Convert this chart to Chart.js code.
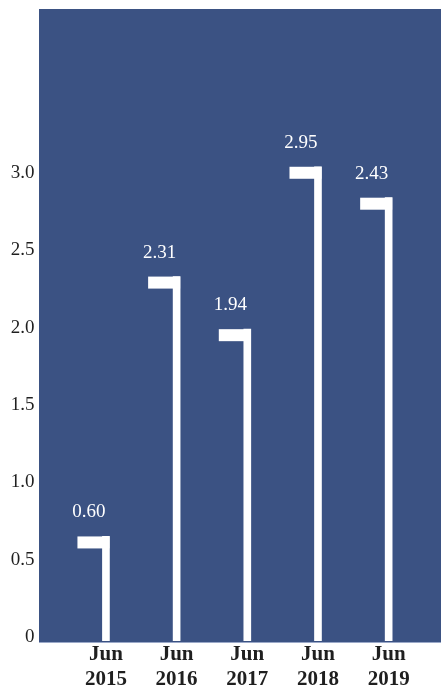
<!DOCTYPE html>
<html>
<head>
<meta charset="utf-8">
<style>
  html, body { margin: 0; padding: 0; background: #ffffff; }
  canvas { display: block; }
</style>
<script src="https://cdn.jsdelivr.net/npm/chart.js@4/dist/chart.umd.min.js"></script>
</head>
<body>
<canvas id="c" width="441" height="687"></canvas>
<script>
// Data
const categories = [['Jun', '2015'], ['Jun', '2016'], ['Jun', '2017'], ['Jun', '2018'], ['Jun', '2019']];
const barHeights = [0.65, 2.33, 1.99, 3.04, 2.84];          // drawn flag tops
const valueLabels = ['0.60', '2.31', '1.94', '2.95', '2.43']; // printed labels
const yTickMax = 3.0;

const SERIF = "'Liberation Serif', 'DejaVu Serif', serif";
const BG_BLUE = '#3b5283';

const backgroundPlugin = {
  id: 'panelBg',
  beforeDraw(chart) {
    const { ctx, chartArea } = chart;
    ctx.save();
    ctx.fillStyle = BG_BLUE;
    ctx.fillRect(39, chartArea.top, 441 - 39, chartArea.bottom - chartArea.top + 1);
    ctx.strokeStyle = '#9aa8c8';
    ctx.lineWidth = 1;
    ctx.beginPath();
    ctx.moveTo(39, chartArea.bottom + 1.5);
    ctx.lineTo(441, chartArea.bottom + 1.5);
    ctx.stroke();
    ctx.restore();
  }
};

const flagPlugin = {
  id: 'flags',
  afterDatasetsDraw(chart) {
    const { ctx } = chart;
    const meta = chart.getDatasetMeta(0);
    ctx.save();
    meta.data.forEach((bar, i) => {
      const half = bar.width / 2;
      const tabW = 32, tabH = 12;
      ctx.fillStyle = '#ffffff';
      ctx.fillRect(bar.x + half - tabW, bar.y, tabW, tabH);
      ctx.font = '19px ' + SERIF;
      ctx.textAlign = 'center';
      ctx.textBaseline = 'middle';
      ctx.fillText(valueLabels[i], bar.x - 17, bar.y - 24);
    });
    ctx.restore();
  }
};

new Chart(document.getElementById('c'), {
  type: 'bar',
  data: {
    labels: categories,
    datasets: [{
      data: barHeights,
      backgroundColor: '#ffffff',
      borderWidth: 0,
      barThickness: 7,
      base: -0.026
    }]
  },
  options: {
    responsive: false,
    animation: false,
    layout: { padding: { top: 9, right: 17, bottom: 0, left: 0 } },
    plugins: { legend: { display: false }, tooltip: { enabled: false } },
    scales: {
      x: {
        offset: true,
        grid: { display: false, drawTicks: false },
        border: { display: false },
        ticks: {
          padding: 1,
          color: '#1f1f1f',
          font: { family: SERIF, size: 21, weight: 'bold', lineHeight: 1.2 },
          maxRotation: 0,
          autoSkip: false
        },
        afterFit(scale) { scale.height = 46; scale.paddingTop = 0; scale.paddingBottom = 0; }
      },
      y: {
        min: -0.026,
        max: 4.06,
        grid: { display: false, drawTicks: false },
        border: { display: false },
        afterFit(scale) { scale.width = 70.6; scale.paddingTop = 0; scale.paddingBottom = 0; },
        ticks: {
          stepSize: 0.5,
          includeBounds: false,
          padding: 36,
          color: '#1f1f1f',
          font: { family: SERIF, size: 19 },
          callback(v) {
            if (v < -0.001 || v > yTickMax + 0.001) return null;
            return Math.abs(v) < 1e-9 ? '0' : v.toFixed(1);
          }
        }
      }
    }
  },
  plugins: [backgroundPlugin, flagPlugin]
});
</script>
</body>
</html>
